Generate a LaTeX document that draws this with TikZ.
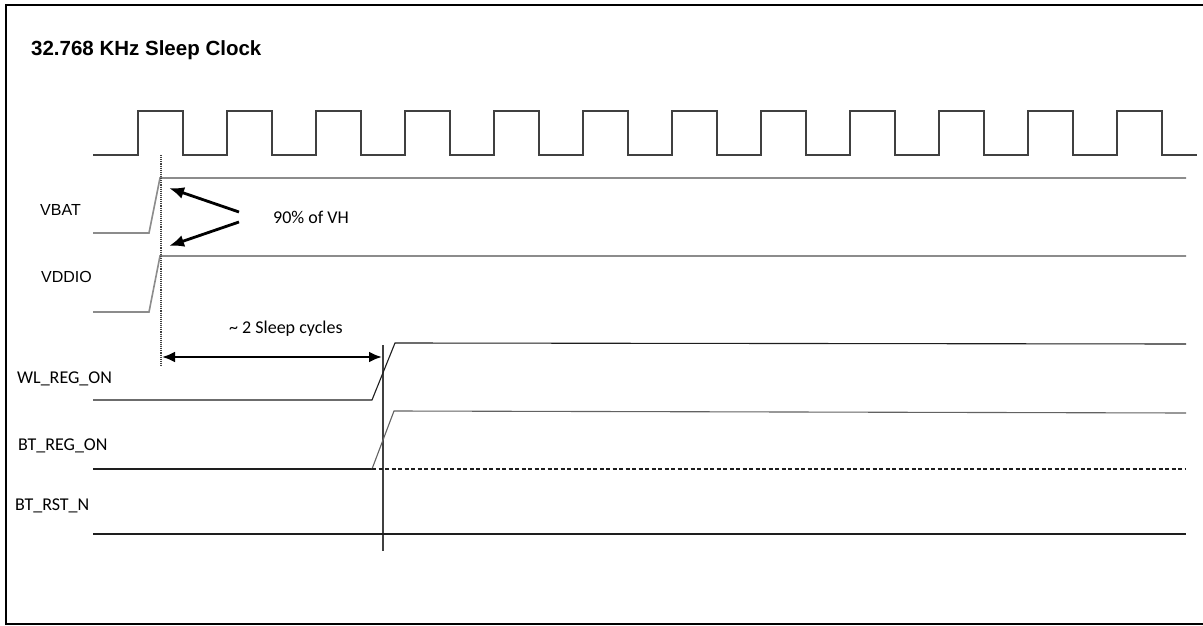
\documentclass[tikz,border=0pt]{standalone}
\usepackage{fontspec}
\setmainfont{Carlito}
\newfontfamily\arialf{Liberation Sans}
\usetikzlibrary{arrows.meta}
\definecolor{clk}{HTML}{404040}
\definecolor{vline}{HTML}{8C8C8C}
\definecolor{sig}{HTML}{1E1E1E}
\tikzset{
  lbl/.style={inner sep=0pt, anchor=base west, font=\fontsize{18}{20}\selectfont},
  albl/.style={inner sep=0pt, anchor=base west, font=\arialf\fontsize{16}{18}\selectfont},
  clkline/.style={draw=clk, line width=1.3pt},
  pwr/.style={draw=vline, line width=1.6pt},
  sigline/.style={draw=sig, line width=1.1pt},
  fatarrow/.style={line width=2.8pt, -{Latex[length=15pt,width=12pt]}},
  marker/.style={draw=clk, line width=1.1pt}
}
\begin{document}
\begin{tikzpicture}[x=1pt,y=-1pt]
\useasboundingbox (0,0) rectangle (1203,626);
\fill[white] (0,0) rectangle (1203,626);
% frame (no right side)
\draw[line width=1.4pt] (1203,5) -- (6,5) -- (6,624) -- (1203,624);
% title
\node[inner sep=0pt, anchor=base west, font=\arialf\bfseries\fontsize{20.5}{22}\selectfont] (title) at (31,56) {32.768 KHz Sleep Clock};
% clock
\coordinate (c0) at (93,155);
\draw[clkline] (c0)
  \foreach \k in {0,...,11} { -- ({138+89*\k},155) -- ({138+89*\k},111) -- ({183+89*\k},111) -- ({183+89*\k},155) }
  -- (1197,155);
% labels
\node[albl] (vbat) at (40,215) {VBAT};
\node[albl] (vddio) at (41,282) {VDDIO};
\node[lbl] (wl) at (17,383) {WL\_REG\_ON};
\node[lbl] (btreg) at (18,450) {BT\_REG\_ON};
\node[lbl] (btrst) at (15,510) {BT\_RST\_N};
% VBAT
\coordinate (vb0) at (93,233); \coordinate (vb1) at (149,233);
\coordinate (vb2) at (160,178); \coordinate (vb3) at (1186,178);
\draw[pwr] (vb0) -- (vb1) -- (vb2) -- (vb3);
% VDDIO
\coordinate (vd0) at (93,312); \coordinate (vd1) at (149,312);
\coordinate (vd2) at (160,256); \coordinate (vd3) at (1186,256);
\draw[pwr] (vd0) -- (vd1) -- (vd2) -- (vd3);
% markers
\coordinate (m1a) at (161,155); \coordinate (m1b) at (161,366);
\draw[marker, densely dotted, line width=1.2pt] (m1a) -- (m1b);
\coordinate (m2a) at (383,345); \coordinate (m2b) at (383,551);
\draw[marker, line width=1.5pt] (m2a) -- (m2b);
% 90% arrows
\node[lbl] (vh) at (273,223) {90\% of VH};
\coordinate (a1t) at (239,212); \coordinate (a1h) at (169,188);
\coordinate (a2t) at (239,222); \coordinate (a2h) at (169,246);
\draw[fatarrow] (a1t) -- (a1h);
\draw[fatarrow] (a2t) -- (a2h);
% 2 sleep cycles
\node[lbl] (cyc) at (229,333) {\textasciitilde{} 2 Sleep cycles};
\coordinate (d1) at (162,357); \coordinate (d2) at (382,357);
\draw[line width=2.4pt, {Latex[length=13pt,width=11pt]}-{Latex[length=13pt,width=11pt]}] (d1) -- (d2);
% WL_REG_ON
\coordinate (w0) at (93,400); \coordinate (w1) at (372,400);
\coordinate (w2) at (395,343); \coordinate (w3) at (1186,344);
\draw[sigline] (w0) -- (w1) -- (w2) -- (w3);
% BT_REG_ON
\coordinate (b0) at (93,469); \coordinate (b1) at (372,469);
\coordinate (b2) at (394,411); \coordinate (b3) at (1186,413);
\draw[sigline] (b0) -- (b1);
\draw[sigline, draw=vline!70!black] (b1) -- (b2) -- (b3);
\coordinate (b4) at (1186,469);
\draw[sigline, dash pattern=on 4pt off 2.5pt] (b1) -- (b4);
% BT_RST_N
\coordinate (r0) at (93,534); \coordinate (r1) at (1186,534);
\draw[sigline] (r0) -- (r1);
\end{tikzpicture}
\end{document}
